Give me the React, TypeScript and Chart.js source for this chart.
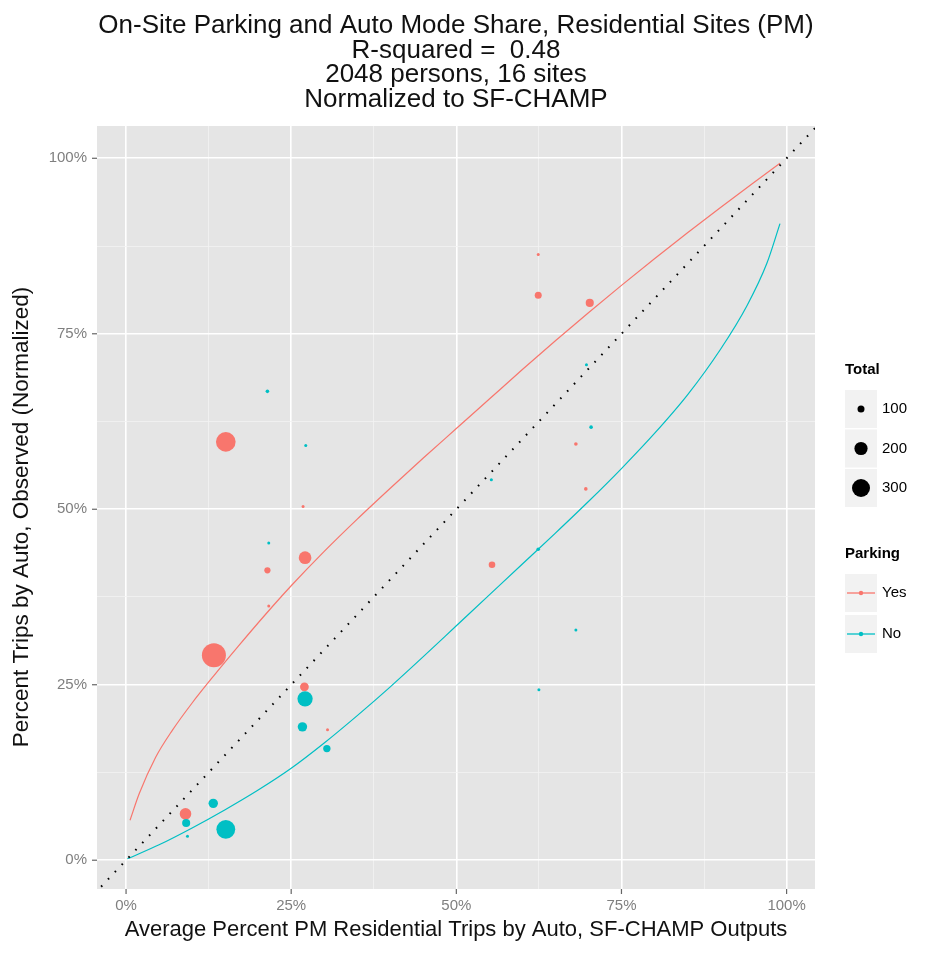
import React, { useEffect, useRef } from 'react';
import { Chart, registerables } from 'chart.js';

Chart.register(...registerables);

// ---------- text ----------
const titleLines = [
  'On-Site Parking and Auto Mode Share, Residential Sites (PM)',
  'R-squared =  0.48',
  '2048 persons, 16 sites',
  'Normalized to SF-CHAMP',
];
const xAxisTitle = 'Average Percent PM Residential Trips by Auto, SF-CHAMP Outputs';
const yAxisTitle = 'Percent Trips by Auto, Observed (Normalized)';

// ---------- ticks ----------
const majorTicks = [0, 0.25, 0.5, 0.75, 1];
const minorTicks = [0.125, 0.375, 0.625, 0.875];
const tickLabels = ['0%', '25%', '50%', '75%', '100%'];

// ---------- legend ----------
const sizeLegendTitle = 'Total';
const sizeBreaks = [100, 200, 300];
const parkingLegendTitle = 'Parking';
const parkingLevels = ['Yes', 'No'];

// ---------- observed sites, Parking = Yes ----------
const yesX = [0.151, 0.133, 0.624, 0.624, 0.702, 0.681, 0.696, 0.268, 0.271, 0.214, 0.216, 0.270, 0.305, 0.090, 0.554];
const yesY = [0.596, 0.292, 0.863, 0.805, 0.794, 0.593, 0.529, 0.504, 0.431, 0.413, 0.362, 0.247, 0.186, 0.066, 0.421];
const yesTotal = [340, 455, 45, 100, 115, 60, 60, 48, 190, 90, 48, 125, 48, 170, 95];

// ---------- observed sites, Parking = No ----------
const noX = [0.214, 0.272, 0.697, 0.704, 0.553, 0.216, 0.271, 0.267, 0.304, 0.132, 0.091, 0.151, 0.093, 0.624, 0.681, 0.625];
const noY = [0.668, 0.591, 0.706, 0.617, 0.542, 0.452, 0.230, 0.190, 0.159, 0.081, 0.053, 0.044, 0.034, 0.443, 0.328, 0.243];
const noTotal = [60, 48, 48, 60, 55, 48, 240, 135, 105, 135, 115, 320, 48, 60, 48, 48];

// ---------- fitted curves ----------
const yesFitX = [0.006, 0.02, 0.045, 0.07, 0.10, 0.133, 0.17, 0.21, 0.25, 0.30, 0.35, 0.40, 0.45, 0.50, 0.55, 0.60, 0.65, 0.70, 0.75, 0.80, 0.85, 0.90, 0.95, 0.99];
const yesFitY = [0.057, 0.095, 0.147, 0.185, 0.224, 0.263, 0.305, 0.349, 0.391, 0.440, 0.486, 0.530, 0.573, 0.615, 0.657, 0.699, 0.740, 0.780, 0.819, 0.857, 0.894, 0.930, 0.965, 0.993];
const noFitX = [0.002, 0.05, 0.10, 0.15, 0.20, 0.25, 0.30, 0.35, 0.40, 0.45, 0.50, 0.55, 0.60, 0.65, 0.70, 0.75, 0.80, 0.85, 0.90, 0.94, 0.97, 0.99];
const noFitY = [0.002, 0.022, 0.046, 0.072, 0.100, 0.131, 0.167, 0.206, 0.247, 0.290, 0.334, 0.378, 0.422, 0.466, 0.511, 0.558, 0.608, 0.663, 0.728, 0.790, 0.850, 0.907];

// ---------- 1:1 reference line ----------
const diagX = [-0.1, 1.1];
const diagY = [-0.1, 1.1];

const RED = '#F8766D';
const TEAL = '#00BFC4';
const FONT = '"Liberation Sans", Arial, sans-serif';

const sizeRadius = (t: number) => Math.max(1.5, 0.75 * Math.sqrt(t) - 4);
const zip = (xs: number[], ys: number[]) => xs.map((x, i) => ({ x, y: ys[i] }));

const decorPlugin = {
  id: 'decor',
  beforeDraw(chart: any) {
    const { ctx, chartArea: a } = chart;
    ctx.save();
    ctx.fillStyle = '#FFFFFF';
    ctx.fillRect(0, 0, chart.width, chart.height);
    ctx.fillStyle = '#E5E5E5';
    ctx.fillRect(a.left, a.top, a.right - a.left, a.bottom - a.top);
    ctx.restore();
  },
  afterDraw(chart: any) {
    const { ctx, chartArea: a, scales } = chart;
    const cx = (a.left + a.right) / 2;
    ctx.save();
    // tick marks
    ctx.strokeStyle = '#666666';
    ctx.lineWidth = 1.2;
    majorTicks.forEach((v) => {
      const px = scales.x.getPixelForValue(v);
      ctx.beginPath();
      ctx.moveTo(px, a.bottom);
      ctx.lineTo(px, a.bottom + 5);
      ctx.stroke();
      const py = scales.y.getPixelForValue(v);
      ctx.beginPath();
      ctx.moveTo(a.left - 5, py);
      ctx.lineTo(a.left, py);
      ctx.stroke();
    });
    // title
    ctx.fillStyle = '#111111';
    ctx.textAlign = 'center';
    ctx.textBaseline = 'alphabetic';
    ctx.font = `26px ${FONT}`;
    titleLines.forEach((t, i) => ctx.fillText(t, cx, 33 + i * 24.6));
    // axis titles
    ctx.font = `22px ${FONT}`;
    ctx.textBaseline = 'middle';
    ctx.fillText(xAxisTitle, cx, 930);
    ctx.save();
    ctx.translate(22, 517);
    ctx.rotate(-Math.PI / 2);
    ctx.font = `22.5px ${FONT}`;
    ctx.fillText(yAxisTitle, 0, 0);
    ctx.restore();
    // size legend
    const kx = 845, kw = 32, lx = 882;
    ctx.textAlign = 'left';
    ctx.fillStyle = '#000000';
    ctx.font = `bold 15px ${FONT}`;
    ctx.fillText(sizeLegendTitle, kx, 370);
    sizeBreaks.forEach((b, i) => {
      const y = 409 + i * 39.5;
      ctx.fillStyle = '#F2F2F2';
      ctx.fillRect(kx, y - 19, kw, 38);
      ctx.fillStyle = '#000000';
      ctx.beginPath();
      ctx.arc(kx + kw / 2, y, sizeRadius(b), 0, Math.PI * 2);
      ctx.fill();
      ctx.font = `15px ${FONT}`;
      ctx.fillText(String(b), lx, y);
    });
    // parking legend
    ctx.font = `bold 15px ${FONT}`;
    ctx.fillText(parkingLegendTitle, kx, 554);
    parkingLevels.forEach((lab, i) => {
      const y = 593 + i * 41;
      const col = i === 0 ? RED : TEAL;
      ctx.fillStyle = '#F2F2F2';
      ctx.fillRect(kx, y - 19, kw, 38);
      ctx.strokeStyle = col;
      ctx.lineWidth = 1.3;
      ctx.beginPath();
      ctx.moveTo(kx + 2, y);
      ctx.lineTo(kx + kw - 2, y);
      ctx.stroke();
      ctx.fillStyle = col;
      ctx.beginPath();
      ctx.arc(kx + kw / 2, y, 2.2, 0, Math.PI * 2);
      ctx.fill();
      ctx.fillStyle = '#000000';
      ctx.font = `15px ${FONT}`;
      ctx.fillText(lab, lx, y);
    });
    ctx.restore();
  },
};

const allTicks = [...majorTicks, ...minorTicks].sort((p, q) => p - q);
const isMajor = (v: number) => majorTicks.some((m) => Math.abs(m - v) < 1e-9);
const labelFor = (v: number) => {
  const i = majorTicks.findIndex((m) => Math.abs(m - v) < 1e-9);
  return i >= 0 ? tickLabels[i] : '';
};

const axisCommon = (fit: (s: any) => void) => ({
  type: 'linear' as const,
  afterBuildTicks: (s: any) => {
    s.ticks = allTicks.map((v) => ({ value: v }));
  },
  afterFit: fit,
  border: { display: false },
  grid: {
    drawTicks: false,
    color: (c: any) => (isMajor(c.tick.value) ? '#FFFFFF' : '#F2F2F2'),
    lineWidth: (c: any) => (isMajor(c.tick.value) ? 1.6 : 0.8),
  },
  ticks: {
    autoSkip: false,
    maxRotation: 0,
    color: '#7F7F7F',
    font: { family: FONT, size: 15 },
    callback: (v: any) => labelFor(Number(v)),
  },
});

export default function App() {
  const ref = useRef<HTMLCanvasElement>(null);
  useEffect(() => {
    if (!ref.current) return;
    const xAxis: any = axisCommon((s: any) => { s.height = 67; });
    xAxis.min = -0.044;
    xAxis.max = 1.043;
    xAxis.ticks.padding = 8;
    const yAxis: any = axisCommon((s: any) => { s.width = 97; });
    yAxis.min = -0.041;
    yAxis.max = 1.046;
    yAxis.ticks.padding = 10;

    const chart = new Chart(ref.current, {
      type: 'scatter',
      data: {
        datasets: [
          {
            label: 'diag',
            data: zip(diagX, diagY),
            showLine: true,
            borderColor: '#000000',
            borderWidth: 2,
            borderDash: [1.6, 8.4],
            pointRadius: 0,
            order: 0,
          },
          {
            label: 'fitYes',
            data: zip(yesFitX, yesFitY),
            showLine: true,
            borderColor: RED,
            borderWidth: 1.2,
            cubicInterpolationMode: 'monotone',
            pointRadius: 0,
            order: 1,
          },
          {
            label: 'fitNo',
            data: zip(noFitX, noFitY),
            showLine: true,
            borderColor: TEAL,
            borderWidth: 1.2,
            cubicInterpolationMode: 'monotone',
            pointRadius: 0,
            order: 2,
          },
          {
            label: 'No',
            data: zip(noX, noY),
            backgroundColor: TEAL,
            borderWidth: 0,
            pointRadius: noTotal.map(sizeRadius),
            order: 3,
          },
          {
            label: 'Yes',
            data: zip(yesX, yesY),
            backgroundColor: RED,
            borderWidth: 0,
            pointRadius: yesTotal.map(sizeRadius),
            order: 4,
          },
        ],
      } as any,
      options: {
        responsive: false,
        animation: false,
        devicePixelRatio: 1,
        events: [],
        layout: { padding: { left: 0, right: 113, top: 126, bottom: 0 } },
        plugins: {
          legend: { display: false },
          tooltip: { enabled: false },
          title: { display: false },
        },
        scales: { x: xAxis, y: yAxis },
      } as any,
      plugins: [decorPlugin],
    });
    return () => chart.destroy();
  }, []);

  return (
    <div style={{ position: 'absolute', left: 0, top: 0, width: 928, height: 956 }}>
      <canvas ref={ref} width={928} height={956} style={{ display: 'block' }} />
    </div>
  );
}
